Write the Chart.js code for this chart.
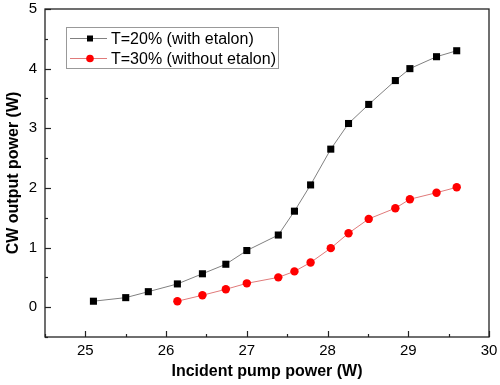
<!DOCTYPE html>
<html>
<head>
<meta charset="utf-8">
<script src="https://cdn.jsdelivr.net/npm/chart.js@4/dist/chart.umd.min.js"></script>
<style>
  html, body { margin: 0; padding: 0; background: #fff; }
  #wrap { width: 500px; height: 385px; }
</style>
</head>
<body>
<div id="wrap"><canvas id="chart" width="500" height="385"></canvas></div>
<script>
'use strict';

// ── Data ─────────────────────────────────────────────────────
const pumpWith    = [25.10, 25.50, 25.78, 26.14, 26.45, 26.74, 27.00, 27.39, 27.59, 27.79, 28.04, 28.26, 28.51, 28.84, 29.02, 29.35, 29.60];
const outputWith  = [0.10, 0.16, 0.26, 0.39, 0.56, 0.72, 0.95, 1.21, 1.61, 2.05, 2.65, 3.08, 3.40, 3.80, 4.00, 4.20, 4.30];
const pumpWithout   = [26.14, 26.45, 26.74, 27.00, 27.39, 27.59, 27.79, 28.04, 28.26, 28.51, 28.84, 29.02, 29.35, 29.60];
const outputWithout = [0.10, 0.20, 0.30, 0.40, 0.50, 0.60, 0.75, 0.99, 1.24, 1.48, 1.66, 1.81, 1.92, 2.01];
const seriesLabels = ['T=20% (with etalon)', 'T=30% (without etalon)'];
const xTickValues = [25, 26, 27, 28, 29, 30];
const yTickValues = [0, 1, 2, 3, 4, 5];

const FONT = '"Liberation Sans", Arial, sans-serif';

const toPoints = (xs, ys) => xs.map((x, i) => ({ x, y: ys[i] }));
const isWhole = v => Math.abs(v - Math.round(v)) < 1e-6;

// ── Frame, inward ticks, legend ──────────────────────────────
const framePlugin = {
  id: 'frame',
  afterDraw(chart) {
    const { ctx, chartArea: a, scales } = chart;
    ctx.save();
    ctx.strokeStyle = '#222';
    ctx.lineWidth = 1.3;
    ctx.strokeRect(a.left, a.top, a.right - a.left, a.bottom - a.top);

    ctx.lineWidth = 1.2;
    for (let v = 24.5; v <= 30.001; v += 0.5) {
      const px = Math.round(scales.x.getPixelForValue(v)) + 0.5;
      const len = isWhole(v) ? 6 : 3;
      ctx.beginPath(); ctx.moveTo(px, a.bottom); ctx.lineTo(px, a.bottom - len); ctx.stroke();
    }
    for (let v = -0.5; v <= 5.001; v += 0.5) {
      const py = Math.round(scales.y.getPixelForValue(v)) + 0.5;
      const len = isWhole(v) ? 6 : 3;
      ctx.beginPath(); ctx.moveTo(a.left, py); ctx.lineTo(a.left + len, py); ctx.stroke();
    }

    // legend box
    const lx = 66, ly = 27, lw = 212, lh = 41;
    ctx.strokeStyle = '#999';
    ctx.lineWidth = 1;
    ctx.strokeRect(lx + 0.5, ly + 0.5, lw, lh);
    ctx.font = '16px ' + FONT;
    ctx.textBaseline = 'middle';
    chart.data.datasets.forEach((ds, i) => {
      const y = 38.5 + i * 20;
      ctx.strokeStyle = ds.borderColor;
      ctx.lineWidth = 1;
      ctx.beginPath(); ctx.moveTo(70, y); ctx.lineTo(107, y); ctx.stroke();
      ctx.fillStyle = ds.pointBackgroundColor;
      if (ds.pointStyle === 'rect') {
        ctx.fillRect(87, y - 3, 6, 6);
      } else {
        ctx.beginPath(); ctx.arc(90, y, 3.8, 0, Math.PI * 2); ctx.fill();
      }
      ctx.fillStyle = '#000';
      ctx.fillText(ds.label, 111, y + 1);
    });
    ctx.restore();
  }
};

new Chart(document.getElementById('chart'), {
  type: 'scatter',
  data: {
    datasets: [
      {
        label: seriesLabels[0],
        data: toPoints(pumpWith, outputWith),
        showLine: true,
        borderColor: '#808080',
        borderWidth: 1,
        pointStyle: 'rect',
        pointRadius: 5,
        pointBackgroundColor: '#000',
        pointBorderColor: '#000',
        pointBorderWidth: 0
      },
      {
        label: seriesLabels[1],
        data: toPoints(pumpWithout, outputWithout),
        showLine: true,
        borderColor: '#e07a7a',
        borderWidth: 1,
        pointStyle: 'circle',
        pointRadius: 4.2,
        pointBackgroundColor: '#ff0000',
        pointBorderColor: '#ff0000',
        pointBorderWidth: 0
      }
    ]
  },
  options: {
    responsive: false,
    animation: false,
    layout: { padding: { top: 9, right: 11, left: 0, bottom: 0 } },
    plugins: { legend: { display: false }, tooltip: { enabled: false } },
    scales: {
      x: {
        type: 'linear',
        min: 24.5, max: 30,
        afterBuildTicks: s => { s.ticks = xTickValues.map(v => ({ value: v })); },
        afterFit: s => { s.height = 48; s.paddingLeft = 0; s.paddingRight = 0; },
        grid: { display: false, drawTicks: false },
        border: { display: false },
        ticks: { color: '#000', font: { family: FONT, size: 15 }, padding: 5, maxRotation: 0 },
        title: { display: true, text: 'Incident pump power (W)', color: '#000', font: { family: FONT, size: 16, weight: 'bold' }, padding: { top: 2 } }
      },
      y: {
        type: 'linear',
        min: -0.5, max: 5,
        afterBuildTicks: s => { s.ticks = yTickValues.map(v => ({ value: v })); },
        afterFit: s => { s.width = 45; s.paddingTop = 0; s.paddingBottom = 0; },
        grid: { display: false, drawTicks: false },
        border: { display: false },
        ticks: { color: '#000', font: { family: FONT, size: 15 }, padding: 8 },
        title: { display: true, text: 'CW output power (W)', color: '#000', font: { family: FONT, size: 16, weight: 'bold' }, padding: { bottom: 2 } }
      }
    }
  },
  plugins: [framePlugin]
});
</script>
</body>
</html>
